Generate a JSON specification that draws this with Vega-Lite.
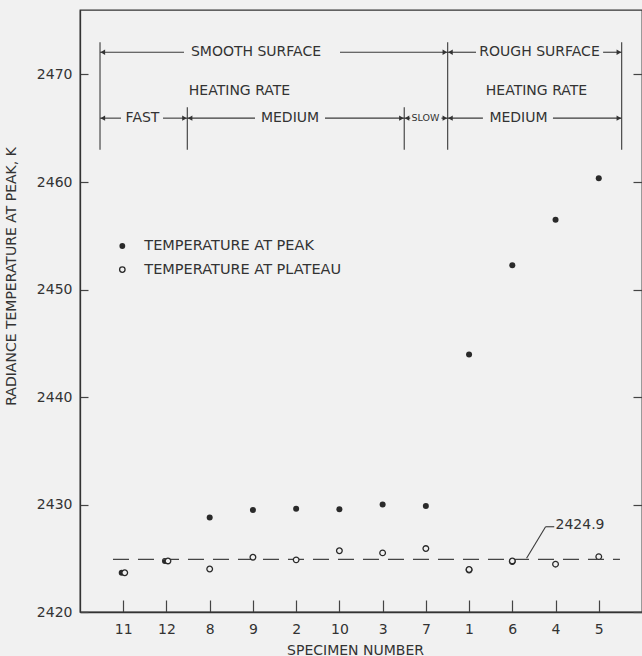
{
  "$schema": "https://vega.github.io/schema/vega-lite/v6.json",
  "width": 562,
  "height": 602,
  "autosize": {"type": "none"},
  "padding": {"left": 80, "top": 10, "right": 0, "bottom": 44},
  "background": "#f1f1f1",
  "view": {"stroke": "#333", "strokeWidth": 1.3},
  "config": {
    "font": "DejaVu Sans",
    "axis": {"grid": false, "domainColor": "#333", "tickColor": "#444", "labelColor": "#333", "titleColor": "#333", "labelFont": "DejaVu Sans", "titleFont": "DejaVu Sans", "titleFontWeight": "normal", "labelFontSize": 14, "titleFontSize": 14, "domainWidth": 1.3, "tickWidth": 1.2}
  },
  "resolve": {"axis": {"y": "independent"}},
  "datasets": {
    "pts": [
      {"specimen": "11", "pos": 0.965, "series": "peak", "temp": 2423.65},
      {"specimen": "11", "pos": 1.035, "series": "plateau", "temp": 2423.65},
      {"specimen": "12", "pos": 1.965, "series": "peak", "temp": 2424.75},
      {"specimen": "12", "pos": 2.035, "series": "plateau", "temp": 2424.75},
      {"specimen": "8", "pos": 3, "series": "peak", "temp": 2428.8},
      {"specimen": "8", "pos": 3, "series": "plateau", "temp": 2424.0},
      {"specimen": "9", "pos": 4, "series": "peak", "temp": 2429.5},
      {"specimen": "9", "pos": 4, "series": "plateau", "temp": 2425.1},
      {"specimen": "2", "pos": 5, "series": "peak", "temp": 2429.6},
      {"specimen": "2", "pos": 5, "series": "plateau", "temp": 2424.85},
      {"specimen": "10", "pos": 6, "series": "peak", "temp": 2429.55},
      {"specimen": "10", "pos": 6, "series": "plateau", "temp": 2425.7},
      {"specimen": "3", "pos": 7, "series": "peak", "temp": 2430.0},
      {"specimen": "3", "pos": 7, "series": "plateau", "temp": 2425.5},
      {"specimen": "7", "pos": 8, "series": "peak", "temp": 2429.85},
      {"specimen": "7", "pos": 8, "series": "plateau", "temp": 2425.9},
      {"specimen": "1", "pos": 9, "series": "peak", "temp": 2443.95},
      {"specimen": "1", "pos": 9, "series": "plateau", "temp": 2423.9},
      {"specimen": "1", "pos": 9, "series": "plateau", "temp": 2423.95},
      {"specimen": "6", "pos": 10, "series": "peak", "temp": 2452.25},
      {"specimen": "6", "pos": 10, "series": "plateau", "temp": 2424.7},
      {"specimen": "6", "pos": 10, "series": "plateau", "temp": 2424.75},
      {"specimen": "4", "pos": 11, "series": "peak", "temp": 2456.5},
      {"specimen": "4", "pos": 11, "series": "plateau", "temp": 2424.45},
      {"specimen": "5", "pos": 12, "series": "peak", "temp": 2460.35},
      {"specimen": "5", "pos": 12, "series": "plateau", "temp": 2425.15}
    ],
    "legend": [
      {"pos": 0.979, "series": "peak", "temp": 2454.05, "label": "TEMPERATURE AT PEAK"},
      {"pos": 0.979, "series": "plateau", "temp": 2451.85, "label": "TEMPERATURE AT PLATEAU"}
    ],
    "segs": [
      {"x": 0.463, "x2": 0.463, "y": 2473.0, "y2": 2463.0},
      {"x": 2.482, "x2": 2.482, "y": 2466.96, "y2": 2463.0},
      {"x": 7.5, "x2": 7.5, "y": 2466.96, "y2": 2463.0},
      {"x": 8.505, "x2": 8.505, "y": 2473.0, "y2": 2463.0},
      {"x": 12.53, "x2": 12.53, "y": 2473.0, "y2": 2463.0},
      {"x": 0.463, "x2": 2.406, "y": 2472.07, "y2": 2472.07},
      {"x": 6.014, "x2": 8.505, "y": 2472.07, "y2": 2472.07},
      {"x": 8.505, "x2": 9.16, "y": 2472.07, "y2": 2472.07},
      {"x": 12.1, "x2": 12.53, "y": 2472.07, "y2": 2472.07},
      {"x": 0.463, "x2": 0.948, "y": 2465.94, "y2": 2465.94},
      {"x": 1.92, "x2": 2.482, "y": 2465.94, "y2": 2465.94},
      {"x": 2.482, "x2": 4.048, "y": 2465.94, "y2": 2465.94},
      {"x": 5.667, "x2": 7.5, "y": 2465.94, "y2": 2465.94},
      {"x": 7.5, "x2": 7.64, "y": 2465.94, "y2": 2465.94},
      {"x": 8.36, "x2": 8.505, "y": 2465.94, "y2": 2465.94},
      {"x": 8.505, "x2": 9.32, "y": 2465.94, "y2": 2465.94},
      {"x": 10.94, "x2": 12.53, "y": 2465.94, "y2": 2465.94},
      {"x": 10.33, "x2": 10.77, "y": 2425.0, "y2": 2427.93},
      {"x": 10.77, "x2": 10.97, "y": 2427.93, "y2": 2427.93}
    ],
    "arrows": [
      {"pos": 0.528, "temp": 2472.07, "dir": "L"},
      {"pos": 8.44, "temp": 2472.07, "dir": "R"},
      {"pos": 8.57, "temp": 2472.07, "dir": "L"},
      {"pos": 12.465, "temp": 2472.07, "dir": "R"},
      {"pos": 0.528, "temp": 2465.94, "dir": "L"},
      {"pos": 2.417, "temp": 2465.94, "dir": "R"},
      {"pos": 2.547, "temp": 2465.94, "dir": "L"},
      {"pos": 7.435, "temp": 2465.94, "dir": "R"},
      {"pos": 7.565, "temp": 2465.94, "dir": "L"},
      {"pos": 8.44, "temp": 2465.94, "dir": "R"},
      {"pos": 8.57, "temp": 2465.94, "dir": "L"},
      {"pos": 12.465, "temp": 2465.94, "dir": "R"}
    ],
    "labels": [
      {"pos": 4.071, "temp": 2472.07, "text": "SMOOTH SURFACE", "size": "big"},
      {"pos": 10.63, "temp": 2472.07, "text": "ROUGH SURFACE", "size": "big"},
      {"pos": 3.69, "temp": 2468.5, "text": "HEATING RATE", "size": "big"},
      {"pos": 10.56, "temp": 2468.5, "text": "HEATING RATE", "size": "big"},
      {"pos": 1.446, "temp": 2465.94, "text": "FAST", "size": "big"},
      {"pos": 4.858, "temp": 2465.94, "text": "MEDIUM", "size": "big"},
      {"pos": 7.992, "temp": 2465.94, "text": "SLOW", "size": "small"},
      {"pos": 10.143, "temp": 2465.94, "text": "MEDIUM", "size": "big"}
    ],
    "ref": [
      {"x": 0.763, "x2": 12.49, "temp": 2424.9}
    ],
    "refLabel": [
      {"pos": 11.0, "temp": 2428.05, "text": "2424.9"}
    ]
  },
  "layer": [
    {
      "data": {"name": "pts"},
      "transform": [{"filter": "datum.series === 'peak'"}],
      "mark": {"type": "point", "shape": "circle", "filled": true, "size": 36, "color": "#2a2a2a", "opacity": 1},
      "encoding": {
        "x": {"field": "pos", "type": "quantitative", "scale": {"domain": [0, 13], "nice": false, "zero": false},
          "axis": {"orient": "bottom", "values": [1, 2, 3, 4, 5, 6, 7, 8, 9, 10, 11, 12], "labelExpr": "['','11','12','8','9','2','10','3','7','1','6','4','5'][datum.value]", "tickSize": -12, "labelPadding": 22, "title": "SPECIMEN NUMBER", "titleX": 275, "titleY": 31, "titleBaseline": "top", "labelFlush": false}},
        "y": {"field": "temp", "type": "quantitative", "scale": {"domain": [2420, 2476], "nice": false, "zero": false},
          "axis": {"orient": "left", "values": [2420, 2430, 2440, 2450, 2460, 2470], "format": "d", "tickSize": -8, "labelPadding": 16, "title": "RADIANCE TEMPERATURE AT PEAK, K", "titleX": -62, "titleY": 266, "titleBaseline": "bottom"}}
      }
    },
    {
      "data": {"name": "ref"},
      "mark": {"type": "rule", "stroke": "#444", "strokeWidth": 1.2, "strokeDash": [16, 9]},
      "encoding": {
        "x": {"field": "x", "type": "quantitative"},
        "x2": {"field": "x2"},
        "y": {"field": "temp", "type": "quantitative", "scale": {"domain": [2420, 2476], "nice": false, "zero": false},
          "axis": {"orient": "right", "values": [2420, 2430, 2440, 2450, 2460, 2470], "labels": false, "domain": false, "tickSize": -9, "title": null}}
      }
    },
    {
      "data": {"name": "segs"},
      "mark": {"type": "rule", "stroke": "#3a3a3a", "strokeWidth": 1.1},
      "encoding": {
        "x": {"field": "x", "type": "quantitative"},
        "x2": {"field": "x2"},
        "y": {"field": "y", "type": "quantitative", "axis": null},
        "y2": {"field": "y2"}
      }
    },
    {
      "data": {"name": "arrows"},
      "mark": {"type": "point", "filled": true, "size": 28, "color": "#333", "opacity": 1},
      "encoding": {
        "x": {"field": "pos", "type": "quantitative"},
        "y": {"field": "temp", "type": "quantitative", "axis": null},
        "shape": {"field": "dir", "type": "nominal", "scale": {"domain": ["L", "R"], "range": ["triangle-left", "triangle-right"]}, "legend": null}
      }
    },
    {
      "data": {"name": "labels"},
      "mark": {"type": "text", "font": "DejaVu Sans", "color": "#333", "align": "center", "baseline": "middle"},
      "encoding": {
        "x": {"field": "pos", "type": "quantitative"},
        "y": {"field": "temp", "type": "quantitative", "axis": null},
        "text": {"field": "text"},
        "size": {"field": "size", "type": "nominal", "scale": {"domain": ["big", "small"], "range": [14, 9.5]}, "legend": null}
      }
    },
    {
      "data": {"name": "refLabel"},
      "mark": {"type": "text", "font": "DejaVu Sans", "fontSize": 14, "color": "#333", "align": "left", "baseline": "middle"},
      "encoding": {
        "x": {"field": "pos", "type": "quantitative"},
        "y": {"field": "temp", "type": "quantitative", "axis": null},
        "text": {"field": "text"}
      }
    },
    {
      "data": {"name": "legend"},
      "mark": {"type": "text", "font": "DejaVu Sans", "fontSize": 14.5, "color": "#333", "align": "left", "baseline": "middle", "dx": 22},
      "encoding": {
        "x": {"field": "pos", "type": "quantitative"},
        "y": {"field": "temp", "type": "quantitative", "axis": null},
        "text": {"field": "label"}
      }
    },
    {
      "data": {"name": "legend"},
      "transform": [{"filter": "datum.series === 'peak'"}],
      "mark": {"type": "point", "shape": "circle", "filled": true, "size": 34, "color": "#2a2a2a", "opacity": 1},
      "encoding": {
        "x": {"field": "pos", "type": "quantitative"},
        "y": {"field": "temp", "type": "quantitative", "axis": null}
      }
    },
    {
      "data": {"name": "legend"},
      "transform": [{"filter": "datum.series === 'plateau'"}],
      "mark": {"type": "point", "shape": "circle", "filled": false, "size": 30, "stroke": "#2a2a2a", "strokeWidth": 1.3, "fill": "#f1f1f1", "opacity": 1},
      "encoding": {
        "x": {"field": "pos", "type": "quantitative"},
        "y": {"field": "temp", "type": "quantitative", "axis": null}
      }
    },
    {
      "data": {"name": "pts"},
      "transform": [{"filter": "datum.series === 'plateau'"}],
      "mark": {"type": "point", "shape": "circle", "filled": false, "size": 32, "stroke": "#2a2a2a", "strokeWidth": 1.3, "fill": "#f1f1f1", "fillOpacity": 1, "opacity": 1},
      "encoding": {
        "x": {"field": "pos", "type": "quantitative"},
        "y": {"field": "temp", "type": "quantitative", "axis": null}
      }
    }
  ]
}
